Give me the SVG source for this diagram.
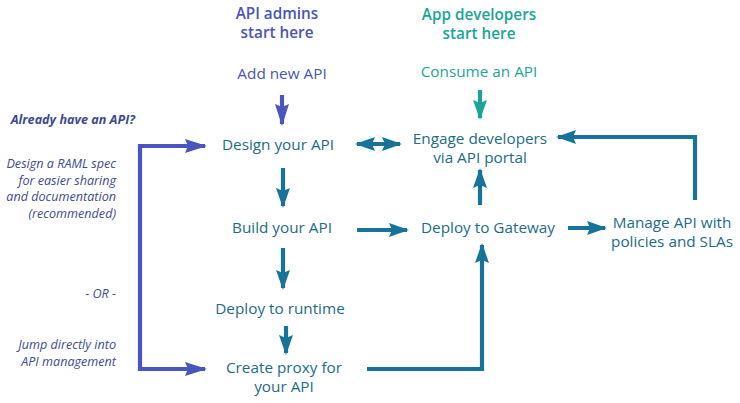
<svg xmlns="http://www.w3.org/2000/svg" width="740" height="403" viewBox="0 0 740 403">
<defs>
<marker id="ah" markerUnits="userSpaceOnUse" markerWidth="20" markerHeight="14" refX="18" refY="7" orient="auto-start-reverse" viewBox="0 0 20 14"><path d="M0,0 L20,7 L0,14 L3,7 z" fill="#17739a"/></marker>
<marker id="ahb" markerUnits="userSpaceOnUse" markerWidth="22" markerHeight="14" refX="20" refY="7" orient="auto-start-reverse" viewBox="0 0 22 14"><path d="M0,0 L22,7 L0,14 L3,7 z" fill="#4a55be"/></marker>
<marker id="aht" markerUnits="userSpaceOnUse" markerWidth="20" markerHeight="14" refX="18" refY="7" orient="auto" viewBox="0 0 20 14"><path d="M0,0 L20,7 L0,14 L3,7 z" fill="#1aa596"/></marker>
</defs>
<style>
text{font-family:"Open Sans","DejaVu Sans",sans-serif;}
.n{font-size:15.3px;fill:#1d6b85;text-anchor:middle;}
.adm{font-size:15.3px;fill:#4a55b5;text-anchor:middle;}
.dev{font-size:15.3px;fill:#1aa596;text-anchor:middle;}
.b{font-weight:600;}
.side{font-size:12.6px;fill:#3d4a8f;font-style:italic;text-anchor:end;}
.c{fill:none;stroke:#17739a;stroke-width:4.2;}
.cb{fill:none;stroke:#4a55be;stroke-width:4.2;}
.ct{fill:none;stroke:#1aa596;stroke-width:4.2;}
</style>
<rect width="740" height="403" fill="#ffffff"/>
<g id="admins-start"><text class="adm b" x="277" y="19">API admins</text><text class="adm b" x="277" y="38">start here</text></g>
<g id="devs-start"><text class="dev b" x="479" y="20">App developers</text><text class="dev b" x="479" y="39">start here</text></g>
<g id="add-api"><text class="adm" x="282" y="79">Add new API</text></g>
<g id="consume-api"><text class="dev" x="479" y="77">Consume an API</text></g>
<g id="design"><text class="n" x="278" y="150">Design your API</text></g>
<g id="engage"><text class="n" x="480" y="144">Engage developers</text><text class="n" x="480" y="163">via API portal</text></g>
<g id="build"><text class="n" x="282" y="233">Build your API</text></g>
<g id="gateway"><text class="n" x="488" y="233">Deploy to Gateway</text></g>
<g id="manage"><text class="n" x="672" y="228">Manage API with</text><text class="n" x="672" y="247">policies and SLAs</text></g>
<g id="runtime"><text class="n" x="280" y="314">Deploy to runtime</text></g>
<g id="proxy"><text class="n" x="284" y="373">Create proxy for</text><text class="n" x="284" y="392">your API</text></g>
<g id="side-notes">
<text class="side" x="135" y="124" font-weight="700">Already have an API?</text>
<text class="side" x="116" y="168">Design a RAML spec</text>
<text class="side" x="116" y="185">for easier sharing</text>
<text class="side" x="116" y="201">and documentation</text>
<text class="side" x="116" y="218">(recommended)</text>
<text class="side" x="116" y="298">- OR -</text>
<text class="side" x="116" y="349">Jump directly into</text>
<text class="side" x="116" y="366">API management</text>
</g>
<g id="connectors">
<path class="cb" d="M282,95 V124" marker-end="url(#ahb)"/>
<path class="ct" d="M480,90 V118" marker-end="url(#aht)"/>
<path class="c" d="M357,144 H400" marker-start="url(#ah)" marker-end="url(#ah)"/>
<path class="c" d="M695,200 V137 H558" marker-end="url(#ah)"/>
<path class="c" d="M283,168 V206" marker-end="url(#ah)"/>
<path class="c" d="M357,230 H407" marker-end="url(#ah)"/>
<path class="c" d="M480,205 V170" marker-end="url(#ah)"/>
<path class="c" d="M568,228 H605" marker-end="url(#ah)"/>
<path class="c" d="M283,248 V288" marker-end="url(#ah)"/>
<path class="c" d="M286,326 V353" marker-end="url(#ah)"/>
<path class="c" d="M367,369 H482 V245" marker-end="url(#ah)"/>
<path class="cb" d="M205,146 H140 V369 H205" marker-start="url(#ahb)" marker-end="url(#ahb)"/>
</g>
</svg>
